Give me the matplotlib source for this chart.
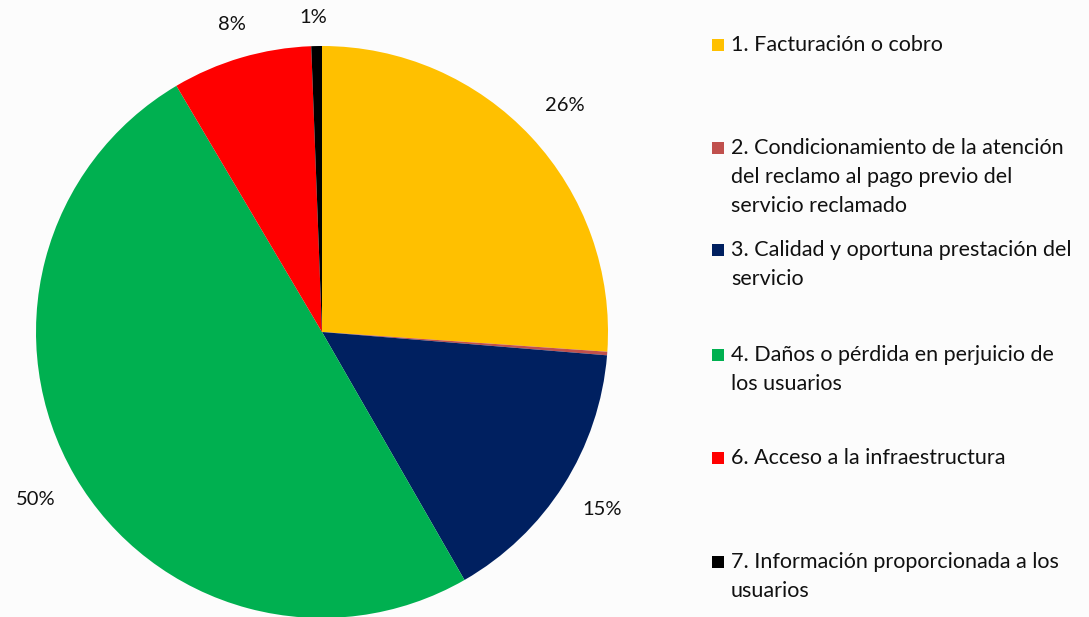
import matplotlib.pyplot as plt
from matplotlib.patches import Rectangle

plt.rcParams['font.family'] = ['Lato', 'DejaVu Sans']

categories = [
    "1. Facturación o cobro",
    "2. Condicionamiento de la atención\ndel reclamo al pago previo del\nservicio reclamado",
    "3. Calidad y oportuna prestación del\nservicio",
    "4. Daños o pérdida en perjuicio de\nlos usuarios",
    "6. Acceso a la infraestructura",
    "7. Información proporcionada a los\nusuarios",
]
shares = [26.1, 0.2, 15.4, 49.8, 7.9, 0.6]
colors = ["#FFC000", "#C0504D", "#002060", "#00B050", "#FF0000", "#000000"]
# radial distance of each percentage label (fraction of radius)
label_dist = [1.16, 1.16, 1.16, 1.16, 1.12, 1.10]

W, H = 1089, 617
fig = plt.figure(figsize=(W / 100, H / 100), dpi=100, facecolor="#FCFCFC")

# pie centred at (322, 332) px, radius 286 px
cx, cy, r = 322, 332, 286
ax = fig.add_axes([(cx - r) / W, (H - cy - r) / H, 2 * r / W, 2 * r / H])
ax.set_facecolor("none")


def pct_label(p):
    return f"{p:.0f}%" if p >= 0.5 else ""


wedges, texts, autotexts = ax.pie(
    shares, colors=colors, startangle=90, counterclock=False,
    autopct=pct_label, pctdistance=1.0, radius=1,
    wedgeprops=dict(linewidth=0),
    textprops=dict(fontsize=14.5, color="#111111"),
)
for t, d in zip(autotexts, label_dist):
    x, y = t.get_position()
    t.set_position((x * d, y * d))
autotexts[-1].set_x(autotexts[-1].get_position()[0] - 0.01)

ax.set_xlim(-1, 1)
ax.set_ylim(-1, 1)
ax.set_aspect("equal")
ax.axis("off")

# legend entries spread down the right side
tops = [45, 148, 250, 355, 458, 562]
for label, col, y in zip(categories, colors, tops):
    fig.patches.append(Rectangle((712 / W, (H - y - 6) / H), 12 / W, 12 / H,
                                 transform=fig.transFigure, facecolor=col,
                                 edgecolor="none"))
    fig.text(731 / W, (H - y + 10) / H, label, fontsize=15.5, color="#111111",
             va="top", ha="left", linespacing=1.55)

fig.savefig("out.png", dpi=100, facecolor=fig.get_facecolor())
